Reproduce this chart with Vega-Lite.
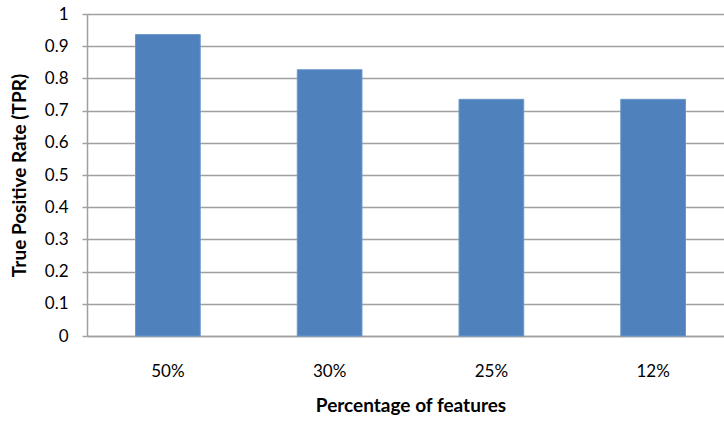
{
  "$schema": "https://vega.github.io/schema/vega-lite/v6.json",
  "width": 647,
  "height": 322,
  "padding": {"left": 87, "top": 14, "right": 0, "bottom": 86},
  "autosize": {"type": "none"},
  "background": "white",
  "view": {"stroke": null},
  "data": {"values": [
    {"pct": "50%", "tpr": 0.936},
    {"pct": "30%", "tpr": 0.827},
    {"pct": "25%", "tpr": 0.735},
    {"pct": "12%", "tpr": 0.735}
  ]},
  "mark": {"type": "bar", "color": "#4F81BD", "stroke": "#6B97CB", "strokeWidth": 1},
  "encoding": {
    "x": {
      "field": "pct", "type": "nominal", "sort": null,
      "scale": {"paddingInner": 0.6, "paddingOuter": 0.3},
      "axis": {
        "title": "Percentage of features", "labelAngle": 0,
        "labelFont": "Lato", "labelFontSize": 17, "labelColor": "#000",
        "titleFont": "Lato", "titleFontSize": 19, "titleFontWeight": "bold", "titleColor": "#000",
        "ticks": false, "labelPadding": 27, "titlePadding": 17,
        "domainColor": "#A0A0A0", "domainWidth": 1.5, "grid": false
      }
    },
    "y": {
      "field": "tpr", "type": "quantitative",
      "scale": {"domain": [0, 1]},
      "axis": {
        "title": "True Positive Rate (TPR)", "values": [0,0.1,0.2,0.3,0.4,0.5,0.6,0.7,0.8,0.9,1],
        "format": "~g",
        "labelFont": "Lato", "labelFontSize": 17, "labelColor": "#000",
        "titleFont": "Lato", "titleFontSize": 19, "titleFontWeight": "bold", "titleColor": "#000",
        "tickSize": 5, "tickColor": "#A0A0A0", "tickWidth": 1.5, "labelPadding": 14, "titlePadding": 15,
        "domainColor": "#A0A0A0", "domainWidth": 1.5,
        "grid": true, "gridColor": "#A0A0A0", "gridWidth": 1.5
      }
    }
  }
}
